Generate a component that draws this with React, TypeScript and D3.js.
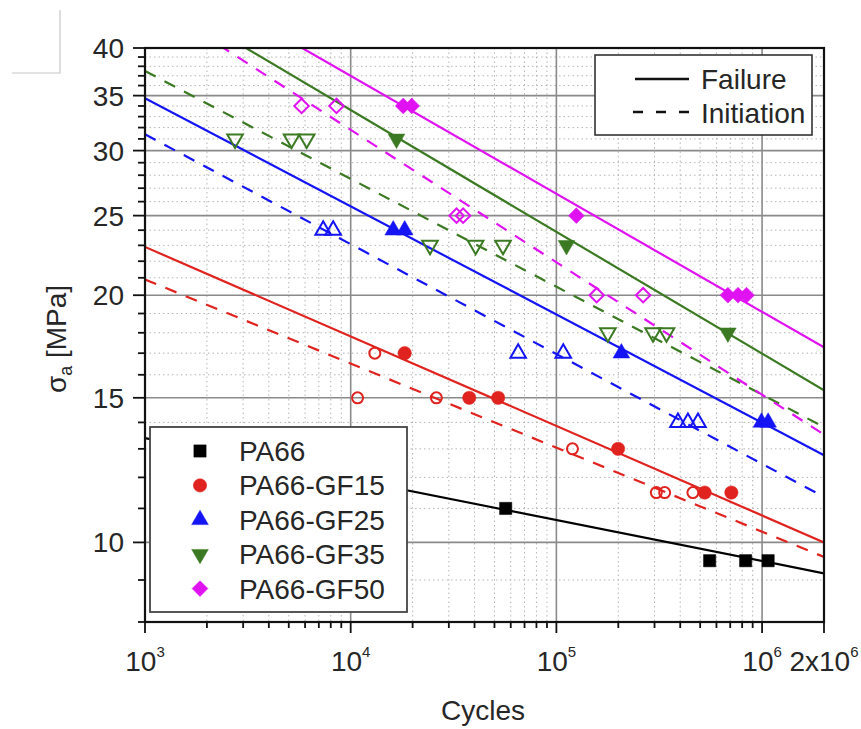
import React from "react";
import * as d3 from "d3";

// materials, in legend order
const materials = ["PA66", "PA66-GF15", "PA66-GF25", "PA66-GF35", "PA66-GF50"];
const colors = ["#000000", "#e0231f", "#1414f5", "#3b7a22", "#e012f2"];

// [cycles, stress amplitude MPa] ; failure = filled, initiation = open
const pa66Failure = [[56700, 11.0], [556000, 9.5], [832000, 9.5], [1070000, 9.5]];
const pa66Initiation: number[][] = [];
const gf15Failure = [[18300, 17], [37700, 15], [52100, 15], [199500, 13], [526000, 11.5], [709000, 11.5]];
const gf15Initiation = [[10800, 15], [13100, 17], [26100, 15], [119700, 13], [306000, 11.5], [336000, 11.5], [461000, 11.5]];
const gf25Failure = [[16100, 24], [18300, 24], [207000, 17], [993000, 14], [1070000, 14]];
const gf25Initiation = [[7350, 24], [8220, 24], [65200, 17], [108000, 17], [390000, 14], [436000, 14], [488000, 14]];
const gf35Failure = [[16700, 31], [112000, 23], [682000, 18]];
const gf35Initiation = [[2740, 31], [5160, 31], [6110, 31], [24300, 23], [40500, 23], [55000, 23], [178000, 18], [295000, 18], [343000, 18]];
const gf50Failure = [[18000, 34], [19800, 34], [125000, 25], [682000, 20], [764000, 20], [840000, 20]];
const gf50Initiation = [[5770, 34], [8530, 34], [32700, 25], [35200, 25], [157000, 20], [264000, 20]];

const failurePoints = [pa66Failure, gf15Failure, gf25Failure, gf35Failure, gf50Failure];
const initiationPoints = [pa66Initiation, gf15Initiation, gf25Initiation, gf35Initiation, gf50Initiation];

// fitted Basquin lines: stress at 1e3 and at 2e6 cycles
const fitCycles = [1e3, 2e6];
const failureFit = [[13.4, 9.17], [22.9, 10.0], [34.75, 12.77], [47.3, 15.32], [51.5, 17.28]];
const initiationFit = [null, [20.9, 9.6], [31.4, 11.36], [37.5, 13.82], [46.1, 13.53]];

const yTicks = [10, 15, 20, 25, 30, 35, 40];
const xTicks = [1e3, 1e4, 1e5, 1e6, 2e6];
const xTickBase = ["10", "10", "10", "10", "2x10"];
const xTickExp = ["3", "4", "5", "6", "6"];

const W = 861;
const H = 729;
const font = "'Liberation Sans', Arial, sans-serif";
const ink = "#262626";

const x = d3.scaleLog().domain([1e3, 2e6]).range([145, 824]);
const y = d3.scaleLog().domain([8, 40]).range([622, 48]);

const symbolPath = (i: number, size: number) => {
  const types = [d3.symbolSquare, d3.symbolCircle, d3.symbolTriangle, d3.symbolTriangle, d3.symbolSquare];
  return d3.symbol().type(types[i]).size(size)() as string;
};
const symbolRotate = [0, 0, 0, 180, 45];
const filledSize = [150, 140, 120, 120, 125];
const openSize = [110, 95, 105, 105, 105];

function Marker({ i, cx, cy, open }: { i: number; cx: number; cy: number; open?: boolean }) {
  return (
    <path
      d={symbolPath(i, open ? openSize[i] : filledSize[i])}
      transform={`translate(${cx},${cy}) rotate(${symbolRotate[i]})`}
      fill={open ? "none" : colors[i]}
      stroke={colors[i]}
      strokeWidth={open ? 2 : 0.5}
    />
  );
}

export default function App() {
  const [x0, x1] = x.range();
  const [y0, y1] = y.range();

  const minorX: number[] = [];
  for (let d = 1e3; d <= 1e6; d *= 10) {
    for (let k = 2; k <= 9; k++) if (k * d < 2e6) minorX.push(k * d);
  }
  const minorY: number[] = d3.range(8, 40).filter((v) => !yTicks.includes(v));

  const line = d3
    .line<number[]>()
    .x((d) => x(d[0]))
    .y((d) => y(d[1]));

  return (
    <svg width={W} height={H} style={{ position: "absolute", left: 0, top: 0, background: "#fff" }} fontFamily={font}>
      <defs>
        <clipPath id="plot">
          <rect x={x0} y={y1} width={x1 - x0} height={y0 - y1} />
        </clipPath>
      </defs>

      {/* stray corner mark in the scan */}
      <path d="M60,10 V73 H12" fill="none" stroke="#c8c8c8" strokeWidth={1.2} />

      {/* grid */}
      <g>
        {minorX.map((v) => (
          <line key={"mx" + v} x1={x(v)} x2={x(v)} y1={y1} y2={y0} stroke="#b4b4b4" strokeWidth={1} strokeDasharray="1.5 3" />
        ))}
        {minorY.map((v) => (
          <line key={"my" + v} x1={x0} x2={x1} y1={y(v)} y2={y(v)} stroke="#b4b4b4" strokeWidth={1} strokeDasharray="1.5 3" />
        ))}
        {[1e4, 1e5, 1e6].map((v) => (
          <line key={"gx" + v} x1={x(v)} x2={x(v)} y1={y1} y2={y0} stroke="#8a8a8a" strokeWidth={1.6} />
        ))}
        {yTicks.map((v) => (
          <line key={"gy" + v} x1={x0} x2={x1} y1={y(v)} y2={y(v)} stroke="#8a8a8a" strokeWidth={1.6} />
        ))}
      </g>

      {/* fitted lines */}
      <g clipPath="url(#plot)" fill="none" strokeWidth={2.2}>
        {failureFit.map((f, i) => (
          <path key={"ff" + i} d={line(fitCycles.map((c, j) => [c, f[j]])) as string} stroke={colors[i]} />
        ))}
        {initiationFit.map((f, i) =>
          f ? (
            <path
              key={"if" + i}
              d={line(fitCycles.map((c, j) => [c, f[j]])) as string}
              stroke={colors[i]}
              strokeDasharray="12 10"
            />
          ) : null
        )}
      </g>

      {/* data points */}
      <g clipPath="url(#plot)">
        {initiationPoints.map((pts, i) =>
          pts.map((p, k) => <Marker key={`o${i}-${k}`} i={i} cx={x(p[0])} cy={y(p[1])} open />)
        )}
        {failurePoints.map((pts, i) =>
          pts.map((p, k) => <Marker key={`f${i}-${k}`} i={i} cx={x(p[0])} cy={y(p[1])} />)
        )}
      </g>

      {/* frame */}
      <rect x={x0} y={y1} width={x1 - x0} height={y0 - y1} fill="none" stroke="#111" strokeWidth={2.2} />

      {/* y axis ticks */}
      <g stroke="#111" strokeWidth={1.8}>
        {yTicks.map((v) => (
          <line key={"yt" + v} x1={x0 - 12} x2={x0} y1={y(v)} y2={y(v)} />
        ))}
        {minorY.map((v) => (
          <line key={"ymt" + v} x1={x0 - 7} x2={x0} y1={y(v)} y2={y(v)} />
        ))}
      </g>
      <g fontSize={28} fill={ink} textAnchor="end">
        {yTicks.map((v) => (
          <text key={"yl" + v} x={x0 - 21} y={y(v) + 10}>
            {v}
          </text>
        ))}
      </g>

      {/* x axis ticks */}
      <g stroke="#111" strokeWidth={1.8}>
        {xTicks.map((v) => (
          <line key={"xt" + v} x1={x(v)} x2={x(v)} y1={y0} y2={y0 + 11} />
        ))}
        {minorX.map((v) => (
          <line key={"xmt" + v} x1={x(v)} x2={x(v)} y1={y0} y2={y0 + 6} />
        ))}
      </g>
      <g fontSize={28} fill={ink}>
        {xTicks.map((v, i) => (
          <text key={"xl" + v} x={x(v)} y={671} textAnchor="middle">
            {xTickBase[i]}
            <tspan fontSize={15} dy={-14}>
              {xTickExp[i]}
            </tspan>
          </text>
        ))}
      </g>

      {/* axis titles */}
      <text x={483} y={720} fontSize={28} fill={ink} textAnchor="middle">
        Cycles
      </text>
      <text transform="translate(66,339) rotate(-90)" fontSize={28} fill={ink} textAnchor="middle">
        σ
        <tspan fontSize={18} dy={6}>
          a
        </tspan>
        <tspan dy={-6}> [MPa]</tspan>
      </text>

      {/* line style legend */}
      <g>
        <rect x={595} y={55} width={217} height={80} fill="#fff" stroke="#333" strokeWidth={1.6} />
        <line x1={635} x2={689} y1={79} y2={79} stroke="#111" strokeWidth={2.4} />
        <line x1={633} x2={693} y1={112} y2={112} stroke="#111" strokeWidth={2.4} strokeDasharray="10 13" />
        <text x={701} y={89} fontSize={28} fill={ink}>
          Failure
        </text>
        <text x={701} y={123} fontSize={28} fill={ink}>
          Initiation
        </text>
      </g>

      {/* material legend */}
      <g>
        <rect x={150} y={427} width={257} height={185} fill="#fff" stroke="#444" strokeWidth={1.8} />
        {materials.map((m, i) => {
          const cy = 451 + i * 34.4;
          return (
            <g key={m}>
              <Marker i={i} cx={200} cy={cy} />
              <text x={239} y={cy + 10} fontSize={28} fill={ink}>
                {m}
              </text>
            </g>
          );
        })}
      </g>
    </svg>
  );
}
